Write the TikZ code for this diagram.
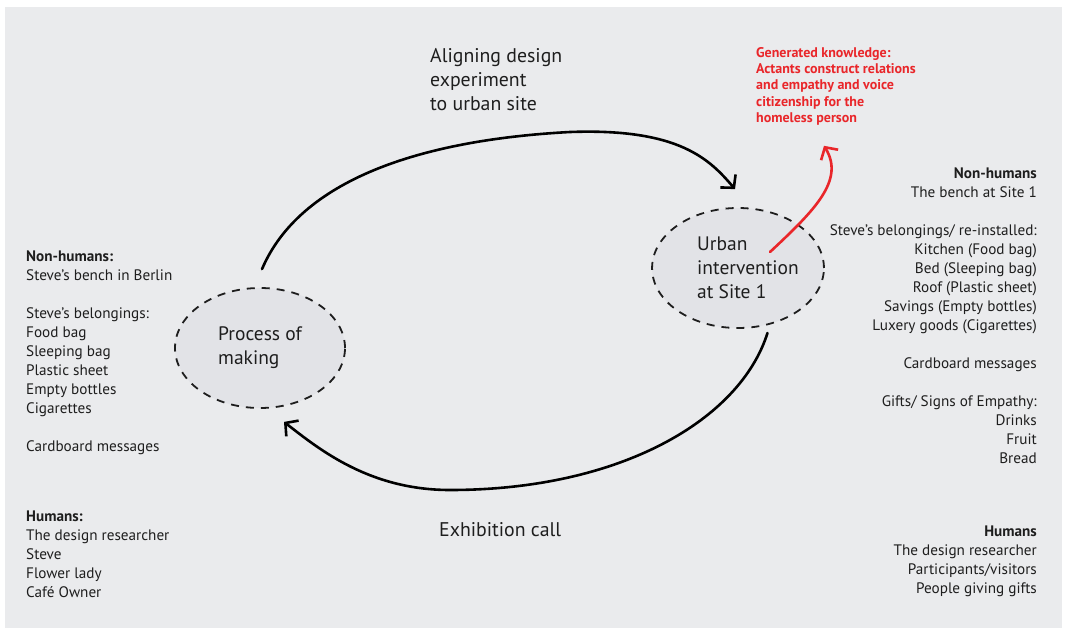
\documentclass[tikz,border=0pt]{standalone}
\usepackage{fontspec}
\setmainfont{PT Sans}
\usetikzlibrary{arrows.meta,positioning,shapes.geometric}
\definecolor{paper}{RGB}{234,235,237}
\definecolor{bubble}{RGB}{226,227,231}
\definecolor{ink}{RGB}{30,30,30}
\definecolor{signal}{RGB}{233,38,42}
\begin{document}
\begin{tikzpicture}[x=1pt,y=-1pt,
  stage/.style={ellipse,draw=ink,fill=bubble,line width=1.8pt,dash pattern=on 8pt off 7pt,
    minimum width=170pt,minimum height=120pt,inner sep=0pt,align=left,
    font=\fontsize{19.5}{24}\selectfont,text=ink},
  actors/.style={inner sep=0pt,font=\fontsize{15.2}{19}\selectfont,text=ink},
  move/.style={inner sep=0pt,align=left,font=\fontsize{19.8}{24}\selectfont,text=ink},
  finding/.style={inner sep=0pt,align=left,font=\fontsize{14}{16.4}\selectfont\bfseries,text=signal},
  flow/.style={-{Straight Barb[length=9pt,width=20pt]},line width=2.6pt,draw=black,line cap=round},
  spark/.style={flow,draw=signal}]
\useasboundingbox (0,0) rectangle (1067,631);
\fill[paper] (5,7) rectangle (1062,628);
\node[stage] (making) at (260,348) {Process of\\making};
\node[stage] (urban) at (738,268) {\hspace*{20pt}Urban\\\hspace*{20pt}intervention\\\hspace*{20pt}at Site 1};
\node[move,anchor=north west] (aligning) at (430,48) {Aligning design\\experiment\\to urban site};
\node[move,anchor=north west] (exhibition) at (439,522) {Exhibition call};
\node[finding,anchor=north west] (knowledge) at (756,47) {Generated knowledge:\\Actants construct relations\\and empathy and voice\\citizenship for the\\homeless person};
\node[actors,align=left,anchor=north west] (berlinthings) at (26,251) {\textbf{Non-humans:}\\Steve's bench in Berlin\\[19pt]Steve's belongings:\\Food bag\\Sleeping bag\\Plastic sheet\\Empty bottles\\Cigarettes\\[19pt]Cardboard messages};
\node[actors,align=left,anchor=north west] (berlinpeople) at (26,511) {\textbf{Humans:}\\The design researcher\\Steve\\Flower lady\\Café Owner};
\node[actors,align=right,anchor=north east] (sitethings) at (1037,168) {\textbf{Non-humans}\\The bench at Site 1\\[19pt]Steve's belongings/ re-installed:\\Kitchen (Food bag)\\Bed (Sleeping bag)\\Roof (Plastic sheet)\\Savings (Empty bottles)\\Luxery goods (Cigarettes)\\[19pt]Cardboard messages\\[19pt]Gifts/ Signs of Empathy:\\Drinks\\Fruit\\Bread};
\node[actors,align=right,anchor=north east] (sitepeople) at (1037,526) {\textbf{Humans}\\The design researcher\\Participants/visitors\\People giving gifts};
\draw[flow] ([shift={(2,-18)}]making.north) .. controls (300,180) and (420,140) .. (570,132)
  .. controls (680,128) and (710,160) .. ([shift={(-3,-18)}]urban.north);
\draw[flow] ([shift={(8,6)}]urban.-70) .. controls (740,420) and (620,490) .. (450,490)
  .. controls (370,490) and (320,450) .. ([shift={(24,13)}]making.south);
\draw[spark] ([shift={(32,-16)}]urban.center) .. controls (815,210) and (845,180) .. ([shift={(-12,20)}]knowledge.south);
\end{tikzpicture}
\end{document}
